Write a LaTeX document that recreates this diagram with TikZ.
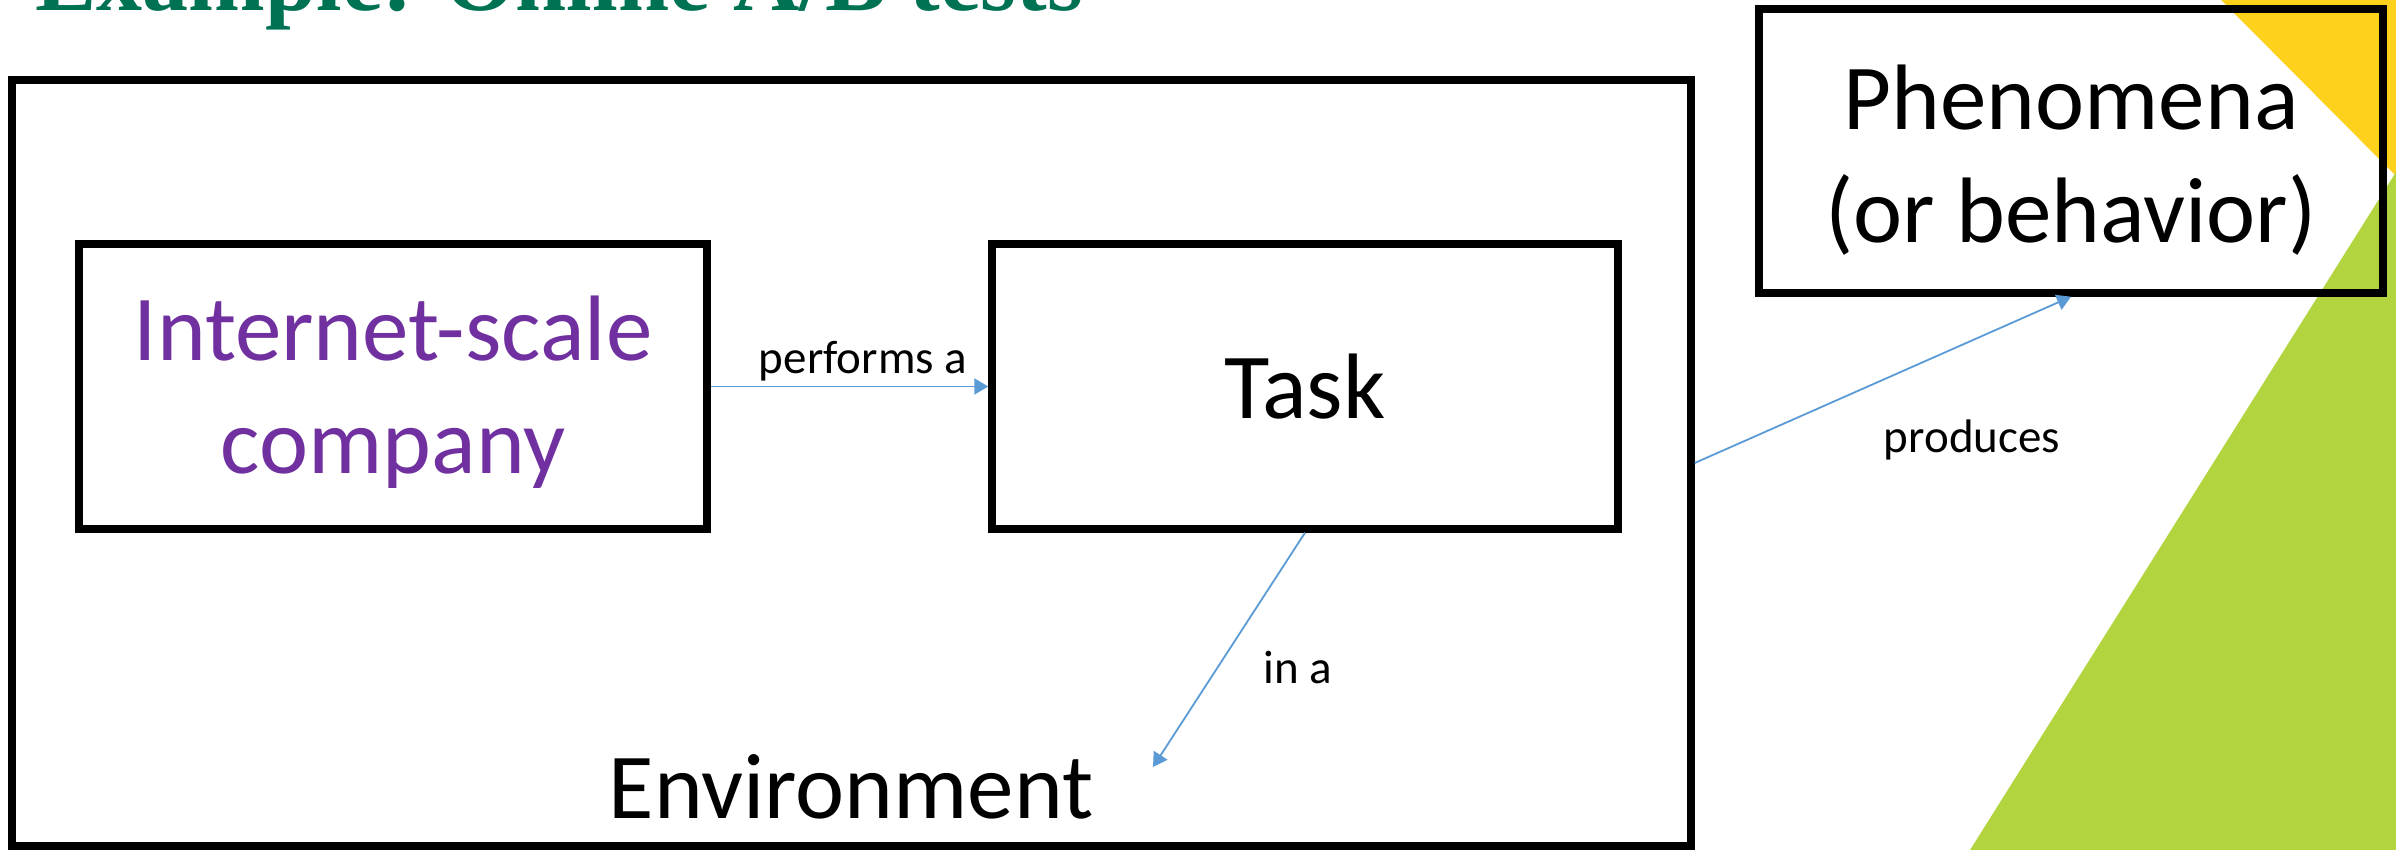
\documentclass[tikz,border=0pt]{standalone}
\usepackage{fontspec}
\setmainfont{Carlito}
\newfontfamily\titlefont{Liberation Serif}
\usetikzlibrary{arrows.meta}

\definecolor{titlegreen}{RGB}{0,114,84}
\definecolor{accentyellow}{RGB}{253,209,28}
\definecolor{accentgreen}{RGB}{178,212,62}
\definecolor{linkblue}{RGB}{91,155,213}
\definecolor{labelpurple}{RGB}{112,48,160}

\newcommand\boxfont{\fontsize{46.5pt}{56.5pt}\selectfont}
\newcommand\tagfont{\fontsize{23.5pt}{28pt}\selectfont}
% lower a block of lines inside its box without changing the box size
\newcommand\lowered[2]{\raisebox{-#1}[\height][\depth]{\parbox{300pt}{\centering #2}}}

\begin{document}
\begin{tikzpicture}[x=0.5pt,y=-0.5pt,
  frame/.style={draw=black, line width=3.7pt, inner sep=0pt, align=center, font=\boxfont},
  link/.style={draw=linkblue, line width=0.9pt, -{Triangle[length=7pt,width=8pt]}},
  tag/.style={font=\tagfont, inner sep=0pt, anchor=base},
]
% canvas and corner accents
\useasboundingbox (0,0) rectangle (2396,850);
\clip (0,0) rectangle (2396,850);
\fill[white] (0,0) rectangle (2396,850);
\fill[accentyellow] (2221,0) -- (2396,0) -- (2396,176) -- cycle;
\fill[accentgreen] (2396,172) -- (2396,850) -- (1970,850) -- cycle;

% slide title
\node[anchor=base west, inner sep=0pt, text=titlegreen,
      font=\titlefont\bfseries\fontsize{46pt}{50pt}\selectfont] (title) at (35,11) {Example: Online A/B tests};

% boxes
\node[frame, minimum width=839.5pt, minimum height=383pt] (outer) at (851.5,463) {};
\node[frame, text=labelpurple, minimum width=314pt, minimum height=142.5pt] (company) at (393,386.5)
  {\lowered{3pt}{Internet-scale\\company}};
\node[frame, minimum width=313pt, minimum height=142.5pt] (task) at (1305,386.5) {Task};
\node[frame, minimum width=312pt, minimum height=142pt] (phen) at (2071,151)
  {\lowered{4.5pt}{Phenomena\\(or behavior)}};
\node[font=\boxfont, inner sep=0pt, anchor=base] (env) at (851,818) {Environment};

% connectors
\coordinate (envtip) at (1153,767);
\draw[link] (company.east) -- (task.west);
\draw[link] (task.south) -- (envtip);
\draw[link] (outer.east) -- (phen.south);

% connector labels
\node[tag] (lperf) at (863,373) {performs a};
\node[tag] (lin) at (1298,683) {in a};
\node[tag] (lprod) at (1972,452) {produces};
\end{tikzpicture}
\end{document}
